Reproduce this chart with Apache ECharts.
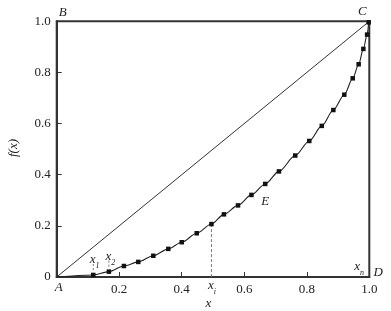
<!DOCTYPE html>
<html><head><meta charset="utf-8">
<script src="https://cdn.jsdelivr.net/npm/echarts@6/dist/echarts.min.js"></script>
<style>html,body{margin:0;padding:0;background:#fff}#c{width:391px;height:311px}</style>
</head><body><div id="c"></div>
<script>
// Lorenz-type curve markers
const curveX = [0.117, 0.167, 0.215, 0.261, 0.309, 0.357, 0.400, 0.448, 0.495, 0.535, 0.580, 0.623, 0.667, 0.711, 0.763, 0.808, 0.848, 0.885, 0.920, 0.947, 0.966, 0.981, 0.993, 0.998];
const curveY = [0.008, 0.021, 0.043, 0.059, 0.083, 0.110, 0.136, 0.171, 0.207, 0.245, 0.280, 0.321, 0.364, 0.413, 0.475, 0.532, 0.591, 0.653, 0.713, 0.777, 0.832, 0.892, 0.948, 0.996];
const curveStart = [0, 0];
const diagX = [0, 1];
const diagY = [0, 1];
const xiIndex = 8;
const xTickLabels = ['', '0.2', '0.4', '0.6', '0.8', '1.0'];
const yTickLabels = ['0', '0.2', '0.4', '0.6', '0.8', '1.0'];

const SERIF = 'Times New Roman, Liberation Serif, Tinos, serif';
const AX = '#333';

const chart = echarts.init(document.getElementById('c'), null, {renderer: 'canvas'});
const curveData = [{value: curveStart, symbol: 'none'}].concat(curveX.map((x, i) => [x, curveY[i]]));

const axisCommon = {
  type: 'value', min: 0, max: 1, interval: 0.2,
  axisLine: {show: true, onZero: false, lineStyle: {color: AX, width: 2}},
  axisTick: {show: true, inside: true, length: 5, lineStyle: {color: AX, width: 1}},
  splitLine: {show: false},
  axisLabel: {color: '#222', fontFamily: SERIF, fontSize: 13, margin: 6}
};

chart.setOption({
  animation: false,
  backgroundColor: '#fff',
  grid: {left: 56.7, right: 21.7, top: 21.3, bottom: 34, show: true, borderColor: AX, borderWidth: 2, backgroundColor: 'transparent'},
  xAxis: Object.assign({}, axisCommon, {
    axisLabel: Object.assign({}, axisCommon.axisLabel, {formatter: v => xTickLabels[Math.round(v / 0.2)]})
  }),
  yAxis: Object.assign({}, axisCommon, {
    axisLabel: Object.assign({}, axisCommon.axisLabel, {formatter: v => yTickLabels[Math.round(v / 0.2)]})
  }),
  series: [
    {type: 'line', data: diagX.map((x, i) => [x, diagY[i]]), symbol: 'none', lineStyle: {color: AX, width: 1}, z: 2},
    {type: 'line', data: [[curveX[xiIndex], curveY[xiIndex]], [curveX[xiIndex], 0]], symbol: 'none',
     lineStyle: {color: '#777', width: 1, type: [3, 2]}, z: 2},
    {type: 'line', data: curveData, smooth: 0.3, smoothMonotone: 'x', symbol: 'rect', symbolSize: 4.5,
     itemStyle: {color: '#111'}, lineStyle: {color: '#222', width: 1.1}, z: 3}
  ]
});

function px(p) { return chart.convertToPixel({gridIndex: 0}, p); }
const ital = {fontFamily: SERIF, fontStyle: 'italic', fontSize: 13, fill: '#222'};
function txt(p, dx, dy, text, extra) {
  const q = px(p);
  return {type: 'text', x: q[0] + dx, y: q[1] + dy, z: 10,
    style: Object.assign({}, ital, {text: text, align: 'center', verticalAlign: 'middle'}, extra || {})};
}
function sub(p, dx, dy, main, s) {
  const q = px(p);
  return {type: 'text', x: q[0] + dx, y: q[1] + dy, z: 10,
    style: {text: '{a|' + main + '}{b|' + s + '}', align: 'left', verticalAlign: 'middle',
      rich: {a: {fontFamily: SERIF, fontStyle: 'italic', fontSize: 13, fill: '#222', lineHeight: 14},
             b: {fontFamily: SERIF, fontStyle: 'italic', fontSize: 8, fill: '#222', verticalAlign: 'bottom', lineHeight: 8, padding: [0, 0, -3, 0]}}}};
}
function dash(p, dy1, dy2) {
  const q = px(p);
  return {type: 'line', z: 5, shape: {x1: q[0], y1: q[1] + dy1, x2: q[0], y2: q[1] + dy2},
    style: {stroke: '#777', lineWidth: 1, lineDash: [2, 2]}};
}
const p1 = [curveX[0], curveY[0]], p2 = [curveX[1], curveY[1]];
const xi = [curveX[xiIndex], 0];
chart.setOption({graphic: [
  txt([0, 1], 6, -9, 'B'),
  txt([1, 1], -7, -10, 'C'),
  txt([0, 0], 2, 11, 'A'),
  txt([1, 0], 9, -4, 'D'),
  txt([curveX[12], curveY[12]], 0, 18, 'E'),
  sub([1, 0], -15, -10, 'x', 'n'),
  sub(p1, -3.5, -15, 'x', '1'),
  sub(p2, -3.5, -15, 'x', '2'),
  sub(xi, -3.5, 9, 'x', 'i'),
  dash(p1, -11, -5),
  dash(p2, -11, -5),
  {type: 'text', x: 208.3, y: 304, z: 10, style: Object.assign({}, ital, {text: 'x', align: 'center', verticalAlign: 'middle'})},
  {type: 'text', x: 14, y: 148, rotation: Math.PI / 2, z: 10, style: Object.assign({}, ital, {text: 'f(x)', align: 'center', verticalAlign: 'middle'})}
]});
</script></body></html>
